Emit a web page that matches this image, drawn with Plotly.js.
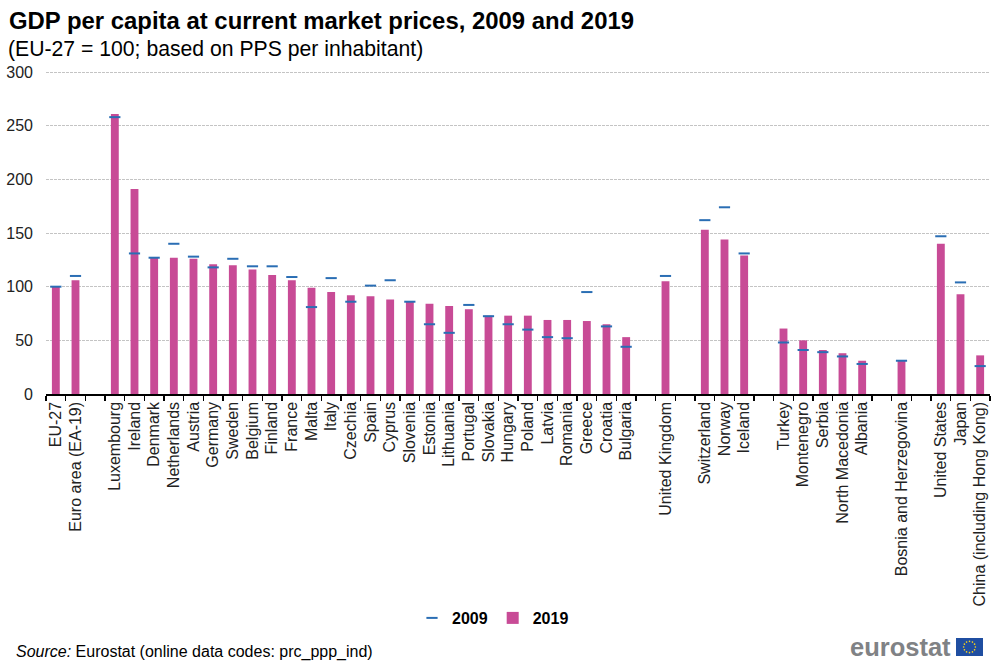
<!DOCTYPE html>
<html><head><meta charset="utf-8">
<script src="https://cdn.plot.ly/plotly-3.0.1.min.js"></script>
<style>html,body{margin:0;padding:0;background:#fff}#c{width:1000px;height:666px}</style>
</head><body><div id="c"></div>
<script>
const categories = ["EU-27","Euro area (EA-19)"," ","Luxembourg","Ireland","Denmark","Netherlands","Austria","Germany","Sweden","Belgium","Finland","France","Malta","Italy","Czechia","Spain","Cyprus","Slovenia","Estonia","Lithuania","Portugal","Slovakia","Hungary","Poland","Latvia","Romania","Greece","Croatia","Bulgaria","  ","United Kingdom","   ","Switzerland","Norway","Iceland","    ","Turkey","Montenegro","Serbia","North Macedonia","Albania","     ","Bosnia and Herzegovina","      ","United States","Japan","China (including Hong Kong)"];
const v2009 = [100,110,null,258,131,127,140,128,118,126,119,119,109,81,108,86,101,106,86,65,57,83,72.5,65,60,53,52,95,63,44,null,110,null,162,174,131,null,48,41,39,35,28,null,31,null,147,104,26];
const v2019 = [100,106,null,261,191,127,127,126,121,120,116,111,106,99,95,92,91,88,86,84,82,79,73,73,73,69,69,68,65,53,null,105,null,153,144,129,null,61,50,41,38,31,null,31,null,140,93,36];
const FONT = '"Liberation Sans", Arial, sans-serif';
const flag = 'data:image/svg+xml;utf8,' + encodeURIComponent('<svg xmlns="http://www.w3.org/2000/svg" width="78" height="54"><rect width="78" height="54" fill="#1f4ea1"/><g fill="#ffd617"><circle cx="39" cy="10" r="2.4"/><circle cx="47.5" cy="12.3" r="2.4"/><circle cx="53.7" cy="18.5" r="2.4"/><circle cx="56" cy="27" r="2.4"/><circle cx="53.7" cy="35.5" r="2.4"/><circle cx="47.5" cy="41.7" r="2.4"/><circle cx="39" cy="44" r="2.4"/><circle cx="30.5" cy="41.7" r="2.4"/><circle cx="24.3" cy="35.5" r="2.4"/><circle cx="22" cy="27" r="2.4"/><circle cx="24.3" cy="18.5" r="2.4"/><circle cx="30.5" cy="12.3" r="2.4"/></g></svg>');
const traces = [
 {type:'scatter',mode:'markers',name:'2009',x:categories,y:v2009,
  marker:{symbol:'line-ew',size:8,color:'#2a6eb4',line:{color:'#2a6eb4',width:2}},cliponaxis:false},
 {type:'bar',name:'2019',x:categories,y:v2019,marker:{color:'#c84b96'},width:0.4}
];
const T=71, H=323, W=944;
const py = y => (T+H-y)/H;
const px = x => (x-46)/W;
const layout = {
 width:1000,height:666,margin:{l:46,r:10,t:T,b:666-T-H},
 paper_bgcolor:'#fff',plot_bgcolor:'#fff',font:{family:FONT,color:'#000',size:15},
 showlegend:true,hovermode:false,
 legend:{orientation:'h',x:px(493),xanchor:'center',y:py(618),yanchor:'middle',font:{family:FONT,size:16,color:'#000',weight:700},traceorder:'normal',itemwidth:30},
 title:{text:'<b>GDP per capita at current market prices, 2009 and 2019</b>',x:9/1000,xanchor:'left',xref:'container',y:1-21/666,yanchor:'middle',yref:'container',font:{family:FONT,size:23.9,color:'#000'}},
 xaxis:{type:'category',categoryorder:'array',categoryarray:categories,range:[-0.5,47.5],tickson:'boundaries',dtick:1,ticks:'outside',ticklen:5,tickwidth:1.5,tickcolor:'#000',showline:true,linecolor:'#000',linewidth:1.5,showgrid:false,tickangle:-90,tickfont:{family:FONT,size:16,color:'#222'},automargin:false,zeroline:false,ticklabelstandoff:0},
 yaxis:{range:[0,301],tickvals:[0,50,100,150,200,250,300],showline:false,ticks:'',gridcolor:'#c4c4c4',griddash:'3px,1px',gridwidth:1,zeroline:false,tickfont:{family:FONT,size:16,color:'#222'},automargin:false,ticklabelstandoff:12},
 annotations:[
  {xref:'paper',yref:'paper',x:px(6),y:py(49),xanchor:'left',yanchor:'middle',showarrow:false,text:'(EU-27 = 100; based on PPS per inhabitant)',font:{family:FONT,size:21.2,color:'#000'}},
  {xref:'paper',yref:'paper',x:px(14),y:py(652),xanchor:'left',yanchor:'middle',showarrow:false,text:'<i>Source:</i> Eurostat (online data codes: prc_ppp_ind)',font:{family:FONT,size:16,color:'#000'}},
  {xref:'paper',yref:'paper',x:px(953),y:py(647),xanchor:'right',yanchor:'middle',showarrow:false,text:'<b>eurostat</b>',font:{family:FONT,size:25.5,color:'#808285'}}
 ],
 images:[{source:flag,xref:'paper',yref:'paper',x:px(956),y:py(638),sizex:27/W,sizey:18/H,xanchor:'left',yanchor:'top',sizing:'stretch',layer:'above'}]
};
Plotly.newPlot('c',traces,layout,{displayModeBar:false,staticPlot:true});
</script></body></html>
